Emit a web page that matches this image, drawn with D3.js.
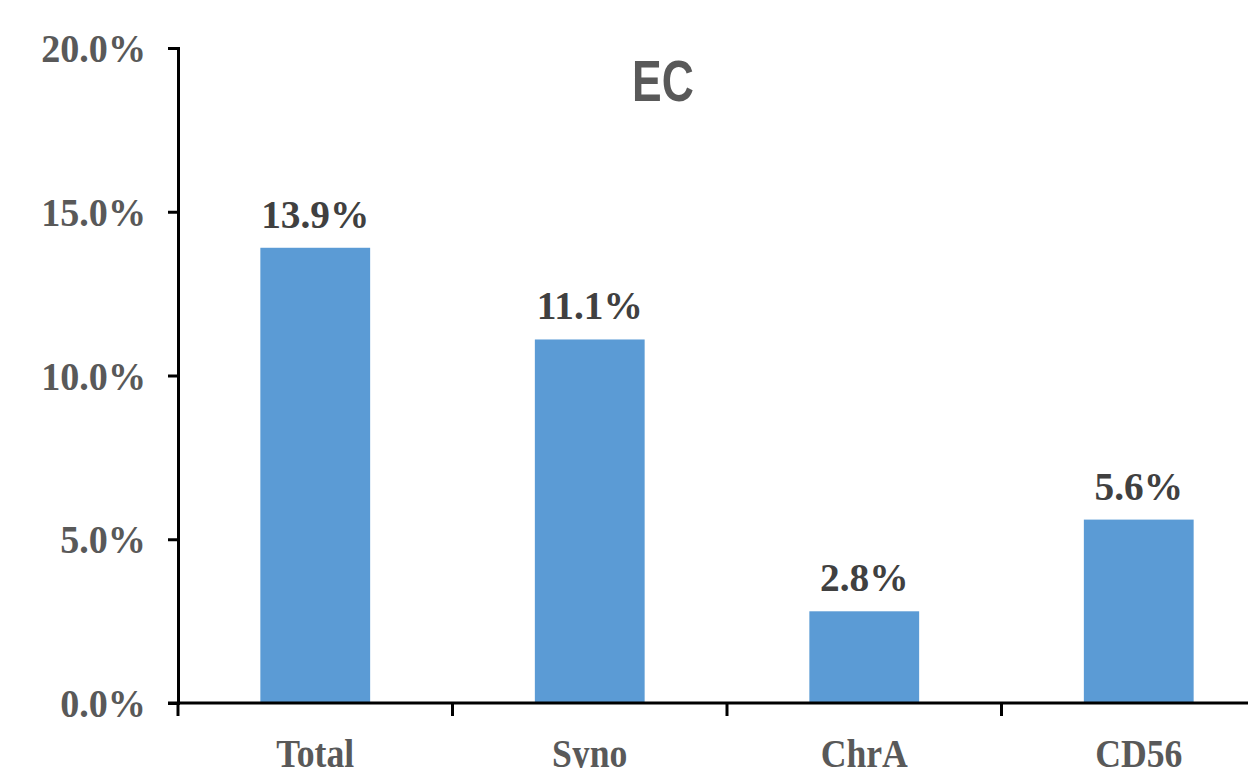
<!DOCTYPE html>
<html><head><meta charset="utf-8">
<script src="https://cdn.jsdelivr.net/npm/d3@7"></script>
<style>html,body{margin:0;padding:0;background:#fff;overflow:hidden}</style>
</head><body>
<svg id="c" width="1248" height="768"></svg>
<script>
const title = "EC";
const categories = ["Total", "Syno", "ChrA", "CD56"];
const values = [0.139, 0.111, 0.028, 0.056];
const yTicks = [0, 0.05, 0.10, 0.15, 0.20];

const svg = d3.select("#c");
const x0 = 178, yBase = 703, yTop = 48, step = 274.5;
const x = d3.scaleBand().domain(categories).range([x0, x0 + step * categories.length]).padding(0);
const y = d3.scaleLinear().domain([0, 0.2]).range([yBase, yTop]);
const fmt = d3.format(".1%");
const serif = "'Liberation Serif','Times New Roman',serif";

// bars
const bw = x.bandwidth() * 0.4;
svg.selectAll("rect.bar").data(values).join("rect")
  .attr("x", (d, i) => x(categories[i]) + (x.bandwidth() - bw) / 2)
  .attr("y", d => y(d))
  .attr("width", bw)
  .attr("height", d => yBase - y(d))
  .attr("fill", "#5B9BD5");

// data labels
svg.selectAll("text.dl").data(values).join("text")
  .attr("transform", (d, i) => `translate(${x(categories[i]) + x.bandwidth() / 2},${y(d) - 20}) scale(0.96,1)`)
  .attr("text-anchor", "middle")
  .attr("font-family", serif).attr("font-weight", "bold").attr("font-size", 41)
  .attr("fill", "#404040")
  .text(d => fmt(d));

// y axis
const ya = svg.append("g").attr("transform", `translate(${x0},0)`)
  .call(d3.axisLeft(y).tickValues(yTicks).tickFormat(fmt).tickSize(10).tickSizeOuter(10));
ya.selectAll("path,line").attr("stroke", "#000").attr("stroke-width", 3);
ya.selectAll("text").remove();
svg.selectAll("text.yl").data(yTicks).join("text")
  .attr("transform", d => `translate(146,${y(d) + 14}) scale(0.93,1)`)
  .attr("text-anchor", "end")
  .attr("font-family", serif).attr("font-weight", "bold").attr("font-size", 41)
  .attr("fill", "#595959")
  .text(d => fmt(d));

// x axis
svg.append("line").attr("x1", x0 - 10).attr("x2", 1248).attr("y1", yBase).attr("y2", yBase)
  .attr("stroke", "#000").attr("stroke-width", 3);
svg.selectAll("line.xt").data(categories).join("line")
  .attr("x1", d => x(d)).attr("x2", d => x(d))
  .attr("y1", yBase).attr("y2", yBase + 13)
  .attr("stroke", "#000").attr("stroke-width", 3);
svg.selectAll("text.xl").data(categories).join("text")
  .attr("transform", d => `translate(${x(d) + x.bandwidth() / 2},767) scale(0.87,1)`)
  .attr("text-anchor", "middle")
  .attr("font-family", serif).attr("font-weight", "bold").attr("font-size", 41)
  .attr("fill", "#595959")
  .text(d => d);

// title
svg.append("text")
  .attr("transform", `translate(663,101) scale(0.78,1)`)
  .attr("text-anchor", "middle")
  .attr("font-family", "'Liberation Sans',Arial,sans-serif").attr("font-weight", "bold").attr("font-size", 57)
  .attr("fill", "#595959")
  .text(title);
</script>
</body></html>
